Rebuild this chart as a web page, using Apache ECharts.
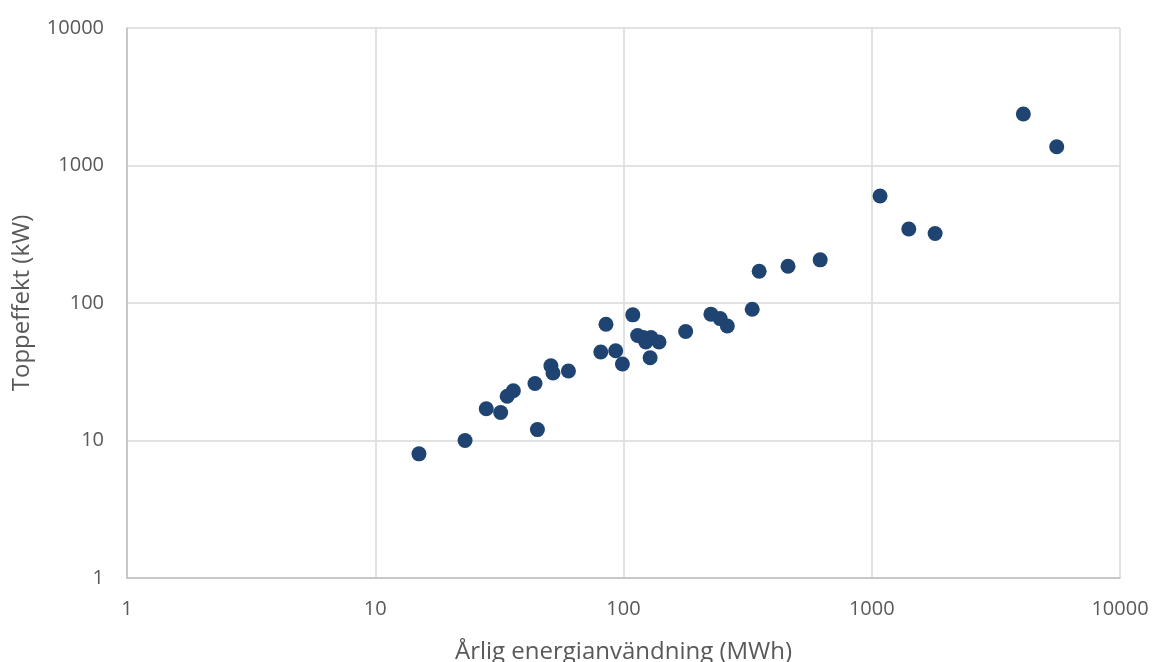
<!DOCTYPE html>
<html>
<head>
<meta charset="utf-8">
<script src="https://cdn.jsdelivr.net/npm/echarts@6/dist/echarts.min.js"></script>
<style>html,body{margin:0;padding:0;background:#fff}#c{width:1154px;height:662px}</style>
</head>
<body>
<div id="c"></div>
<script>
const energyMWh = [15, 23, 28, 32, 34, 36, 44, 45, 51, 52, 60, 81, 85, 93, 99, 109, 114, 120, 123, 129, 128, 139, 178, 225, 245, 262, 330, 352, 460, 620, 1080, 1410, 1800, 4080, 5560];
const peakKW    = [8, 10, 17, 16, 21, 23, 26, 12, 35, 31, 32, 44, 70, 45, 36, 82, 58, 56, 52, 56, 40, 52, 62, 83, 77, 68, 90, 170, 185, 206, 600, 345, 320, 2370, 1370];
const xTitle = 'Årlig energianvändning (MWh)';
const yTitle = 'Toppeffekt (kW)';

const points = energyMWh.map((x, i) => [x, peakKW[i]]);
const font = 'Open Sans';
const fmt = v => String(Math.round(v));
const chart = echarts.init(document.getElementById('c'));
chart.setOption({
  animation: false,
  grid: { left: 127, right: 34, top: 28, bottom: 84, outerBoundsMode: 'none', containLabel: false },
  xAxis: {
    type: 'log', logBase: 10, min: 1, max: 10000,
    name: xTitle, nameLocation: 'middle', nameGap: 62,
    nameTextStyle: { color: '#595959', fontSize: 24, fontFamily: font },
    axisLine: { show: true, lineStyle: { color: '#bfbfbf', width: 1.5 } },
    axisTick: { show: false }, minorTick: { show: false },
    axisLabel: { color: '#595959', fontSize: 20, fontFamily: font, margin: 21, formatter: fmt },
    splitLine: { show: true, lineStyle: { color: '#d9d9d9', width: 1.5 } }
  },
  yAxis: {
    type: 'log', logBase: 10, min: 1, max: 10000,
    name: yTitle, nameLocation: 'middle', nameGap: 93,
    nameTextStyle: { color: '#595959', fontSize: 24, fontFamily: font },
    axisLine: { show: true, lineStyle: { color: '#bfbfbf', width: 1.5 } },
    axisTick: { show: false }, minorTick: { show: false },
    axisLabel: { color: '#595959', fontSize: 20, fontFamily: font, margin: 23, formatter: fmt },
    splitLine: { show: true, lineStyle: { color: '#d9d9d9', width: 1.5 } }
  },
  series: [{
    type: 'scatter', data: points, symbolSize: 15,
    itemStyle: { color: '#1f4472', opacity: 1 }
  }]
});
</script>
</body>
</html>
